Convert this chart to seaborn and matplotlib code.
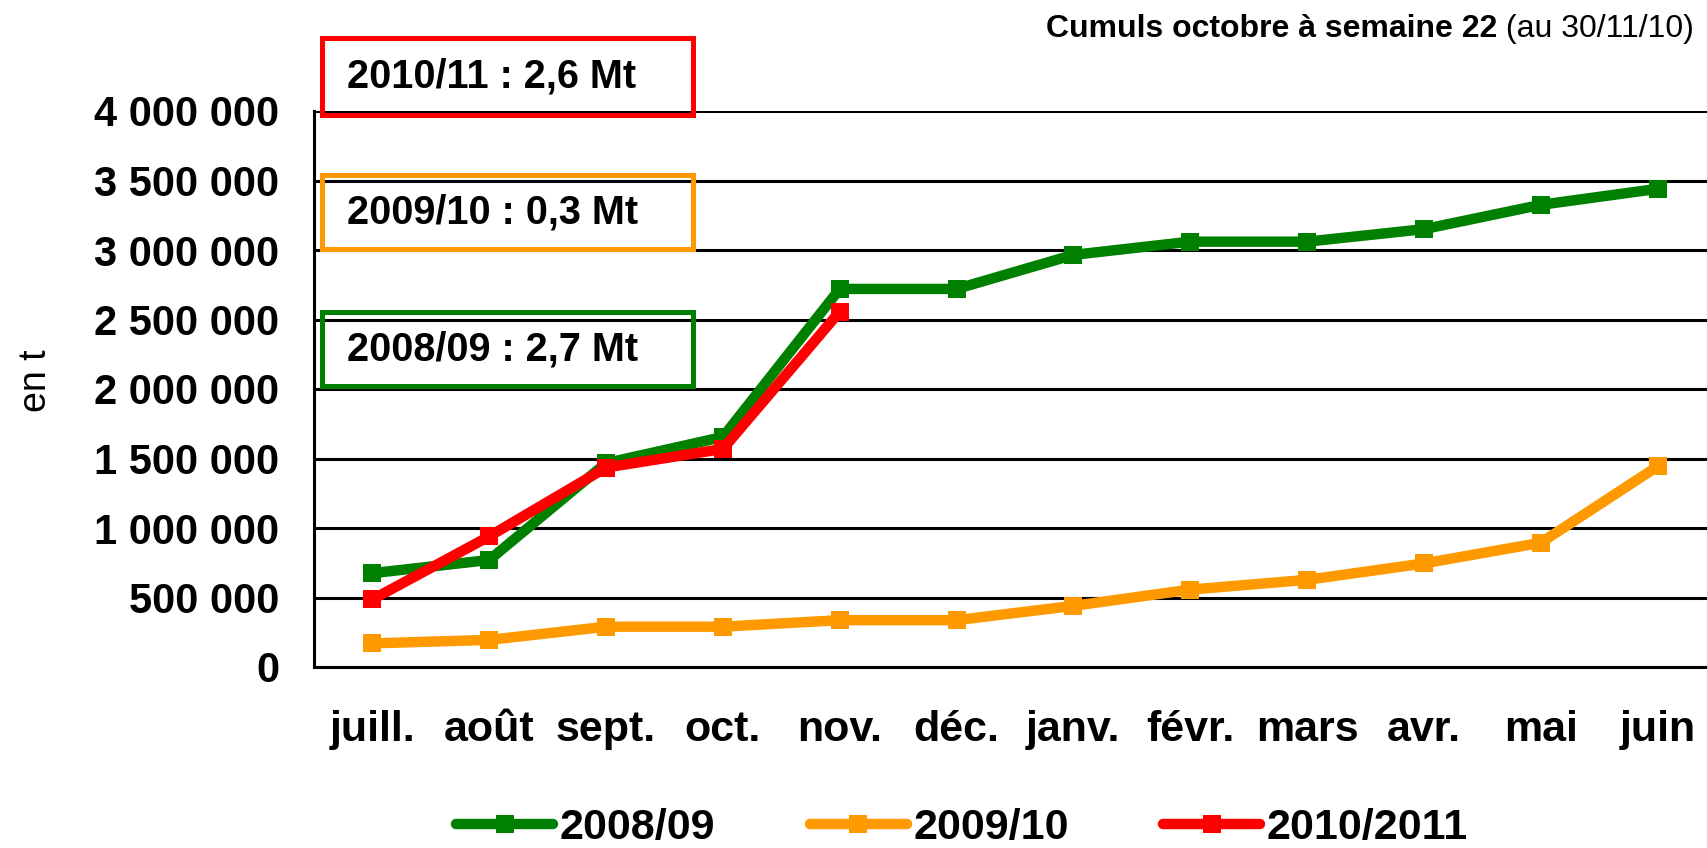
import pandas as pd
import seaborn as sns
import matplotlib.pyplot as plt
from matplotlib.patches import Rectangle
from matplotlib.ticker import FuncFormatter, FixedLocator

months = ["juill.", "août", "sept.", "oct.", "nov.", "déc.",
          "janv.", "févr.", "mars", "avr.", "mai", "juin"]
s0809 = [675000, 770000, 1467000, 1655000, 2720000, 2720000,
         2965000, 3060000, 3060000, 3150000, 3325000, 3440000]
s0910 = [170000, 195000, 290000, 290000, 337000, 337000,
         440000, 557000, 627000, 745000, 894000, 1443000]
s1011 = [486000, 940000, 1435000, 1569000, 2557000]
seasons = ["2008/09", "2009/10", "2010/2011"]
colors = ["#008000", "#FF9900", "#FF0000"]
box_texts = ["2010/11 : 2,6 Mt", "2009/10 : 0,3 Mt", "2008/09 : 2,7 Mt"]
box_colors = ["#FF0000", "#FF9900", "#008000"]

rows = []
for name, vals in zip(seasons, [s0809, s0910, s1011]):
    for i, v in enumerate(vals):
        rows.append({"mois": i, "tonnes": v, "campagne": name})
df = pd.DataFrame(rows)

sns.set_style("white")
plt.rcParams['font.family'] = ['Liberation Sans', 'DejaVu Sans']
plt.rcParams['text.color'] = 'black'
plt.rcParams['xtick.color'] = 'black'
plt.rcParams['ytick.color'] = 'black'
plt.rcParams['axes.labelcolor'] = 'black'

fig = plt.figure(figsize=(17.08, 8.48), dpi=100)
ax = fig.add_axes([314 / 1708, 1 - 667 / 848, 1402 / 1708, 556 / 848])

sns.lineplot(data=df, x="mois", y="tonnes", hue="campagne", palette=colors,
             marker="s", markersize=13.5, markeredgewidth=0, linewidth=7.5,
             ax=ax, legend=True)

ax.set_xlim(-0.5, 11.5)
ax.set_ylim(0, 4000000)
ax.set_yticks(range(0, 4000001, 500000))
ax.yaxis.set_major_formatter(FuncFormatter(lambda v, p: f"{int(v):,}".replace(",", " ")))
ax.set_xticks(range(12))
ax.set_xticklabels(months)
ax.xaxis.set_minor_locator(FixedLocator([i - 0.5 for i in range(13)]))
ax.tick_params(axis='x', which='major', length=0, pad=31, labelsize=31)
ax.tick_params(axis='x', which='minor', length=11.5, width=2, color='black', direction='out')
ax.tick_params(axis='y', length=0, pad=25, labelsize=30)
for lab in ax.get_xticklabels() + ax.get_yticklabels():
    lab.set_fontweight('bold')
ax.set_xlabel("")
ax.set_ylabel("")

ax.set_axisbelow(True)
ax.yaxis.grid(True, color='black', linewidth=2.2)
for side in ['top', 'right']:
    ax.spines[side].set_visible(False)
for side in ['left', 'bottom']:
    ax.spines[side].set_color('black')
    ax.spines[side].set_linewidth(2.2)

# boxes with totals
box_y = [0.9928, 0.7518, 0.5054]
box_h = [0.1385, 0.133, 0.133]
for txt, col, y0, h in zip(box_texts, box_colors, box_y, box_h):
    ax.add_patch(Rectangle((0.0057, y0), 0.2646, h, transform=ax.transAxes,
                           fill=False, edgecolor=col, linewidth=3.6, clip_on=False, zorder=5))
    ax.text(0.0235, y0 + h / 2, txt, transform=ax.transAxes, ha='left', va='center',
            fontsize=28.5, fontweight='bold', zorder=6)

fig.text(36 / 1708, 1 - 381 / 848, "en t", rotation=90, ha='center', va='center', fontsize=27)

t2 = fig.text(1694 / 1708, 1 - 29 / 848, " (au 30/11/10)", ha='right', va='center',
              fontsize=23)
ax.annotate("Cumuls octobre à semaine 22", xy=(0, 0.5), xycoords=t2, ha='right', va='center',
            fontsize=23, fontweight='bold')

handles, labels = ax.get_legend_handles_labels()
ax.get_legend().remove()
fig.legend(handles, labels, loc='center', bbox_to_anchor=(962 / 1708, 1 - 828 / 848),
           ncol=3, frameon=False, handlelength=2.25, handletextpad=0.15, columnspacing=2.2,
           prop={'weight': 'bold', 'size': 31})

fig.savefig("out.png", dpi=100)
